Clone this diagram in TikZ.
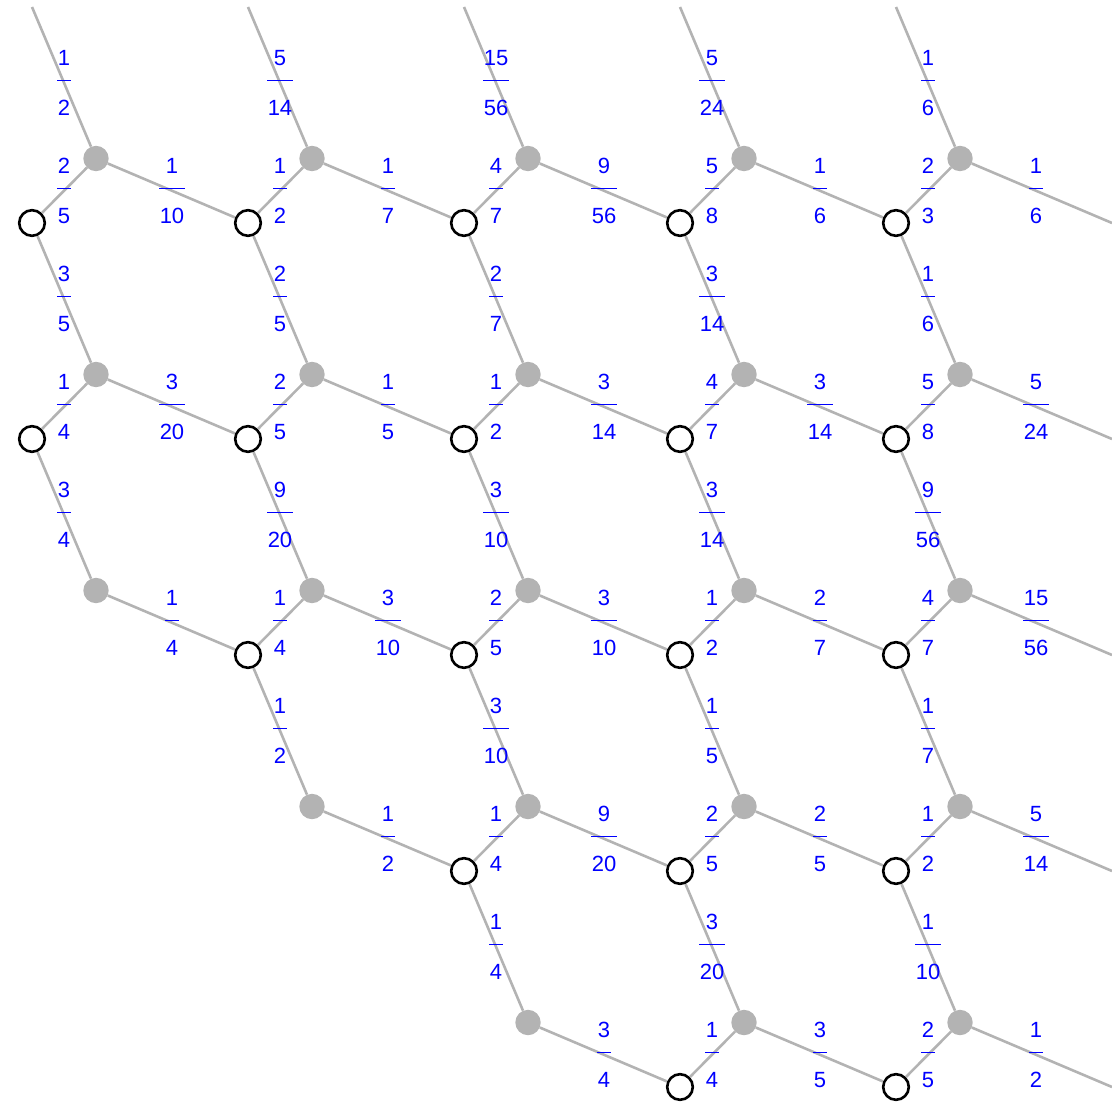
\documentclass[tikz,border=0pt]{standalone}
\usepackage{fontspec}
\setmainfont{Liberation Sans}
\usetikzlibrary{calc}
\definecolor{edgegray}{RGB}{179,179,179}
\definecolor{labblue}{RGB}{0,0,255}
\newcommand\fr[2]{%
  \setbox0=\hbox{#1}\setbox2=\hbox{#2}%
  \ht0=15pt \dp0=0pt \ht2=15pt \dp2=0pt
  \dimen0=\wd0 \ifdim\wd2>\dimen0 \dimen0=\wd2\fi
  \advance\dimen0 by 1.5pt
  \vbox{\hbox to\dimen0{\hss\box0\hss}\kern14.35pt\hrule height1.3pt\kern18.65pt\hbox to\dimen0{\hss\box2\hss}}}
\newcommand\edgeL[4]{%
  \draw[edge] (#1) -- (#2);
  \node[lab] (L#1#2) at ($(#1)!0.5!(#2)$) {\fr{#3}{#4}};}
\begin{document}
\begin{tikzpicture}[x=1pt,y=-1pt,
  gdot/.style={circle,fill=edgegray,draw=none,minimum size=25.4pt,inner sep=0pt},
  wdot/.style={circle,fill=white,draw=black,line width=2.6pt,minimum size=25.6pt,inner sep=0pt},
  edge/.style={draw=edgegray,line width=2.6pt},
  lab/.style={anchor=north,yshift=32pt,inner sep=0pt,outer sep=0pt,text=labblue,font=\fontsize{22}{26}\selectfont}]
\useasboundingbox (0,0) rectangle (1112,1105);
\foreach \i/\j in {0/0,1/0,2/0,3/0,4/0,0/1,1/1,2/1,3/1,4/1,0/2,1/2,2/2,3/2,4/2,1/3,2/3,3/3,4/3,2/4,3/4,4/4}
  \node[gdot] (g\i\j) at ({96+216*\i},{158.5+216*\j}) {};
\foreach \i/\j in {0/0,1/0,2/0,3/0,4/0,0/1,1/1,2/1,3/1,4/1,1/2,2/2,3/2,4/2,2/3,3/3,4/3,3/4,4/4}
  \node[wdot] (w\i\j) at ({32+216*\i},{223+216*\j}) {};
\foreach \i in {0,...,4} {
  \coordinate (t\i) at ({32+216*\i},7);
  \coordinate (r\i) at (1112,{223+216*\i});
}
% row 0
\edgeL{g00}{t0}{1}{2} \edgeL{g00}{w00}{2}{5} \edgeL{g00}{w10}{1}{10}
\edgeL{g10}{t1}{5}{14} \edgeL{g10}{w10}{1}{2} \edgeL{g10}{w20}{1}{7}
\edgeL{g20}{t2}{15}{56} \edgeL{g20}{w20}{4}{7} \edgeL{g20}{w30}{9}{56}
\edgeL{g30}{t3}{5}{24} \edgeL{g30}{w30}{5}{8} \edgeL{g30}{w40}{1}{6}
\edgeL{g40}{t4}{1}{6} \edgeL{g40}{w40}{2}{3} \edgeL{g40}{r0}{1}{6}
% row 1
\edgeL{g01}{w00}{3}{5} \edgeL{g01}{w01}{1}{4} \edgeL{g01}{w11}{3}{20}
\edgeL{g11}{w10}{2}{5} \edgeL{g11}{w11}{2}{5} \edgeL{g11}{w21}{1}{5}
\edgeL{g21}{w20}{2}{7} \edgeL{g21}{w21}{1}{2} \edgeL{g21}{w31}{3}{14}
\edgeL{g31}{w30}{3}{14} \edgeL{g31}{w31}{4}{7} \edgeL{g31}{w41}{3}{14}
\edgeL{g41}{w40}{1}{6} \edgeL{g41}{w41}{5}{8} \edgeL{g41}{r1}{5}{24}
% row 2
\edgeL{g02}{w01}{3}{4} \edgeL{g02}{w12}{1}{4}
\edgeL{g12}{w11}{9}{20} \edgeL{g12}{w12}{1}{4} \edgeL{g12}{w22}{3}{10}
\edgeL{g22}{w21}{3}{10} \edgeL{g22}{w22}{2}{5} \edgeL{g22}{w32}{3}{10}
\edgeL{g32}{w31}{3}{14} \edgeL{g32}{w32}{1}{2} \edgeL{g32}{w42}{2}{7}
\edgeL{g42}{w41}{9}{56} \edgeL{g42}{w42}{4}{7} \edgeL{g42}{r2}{15}{56}
% row 3
\edgeL{g13}{w12}{1}{2} \edgeL{g13}{w23}{1}{2}
\edgeL{g23}{w22}{3}{10} \edgeL{g23}{w23}{1}{4} \edgeL{g23}{w33}{9}{20}
\edgeL{g33}{w32}{1}{5} \edgeL{g33}{w33}{2}{5} \edgeL{g33}{w43}{2}{5}
\edgeL{g43}{w42}{1}{7} \edgeL{g43}{w43}{1}{2} \edgeL{g43}{r3}{5}{14}
% row 4
\edgeL{g24}{w23}{1}{4} \edgeL{g24}{w34}{3}{4}
\edgeL{g34}{w33}{3}{20} \edgeL{g34}{w34}{1}{4} \edgeL{g34}{w44}{3}{5}
\edgeL{g44}{w43}{1}{10} \edgeL{g44}{w44}{2}{5} \edgeL{g44}{r4}{1}{2}
\end{tikzpicture}
\end{document}
